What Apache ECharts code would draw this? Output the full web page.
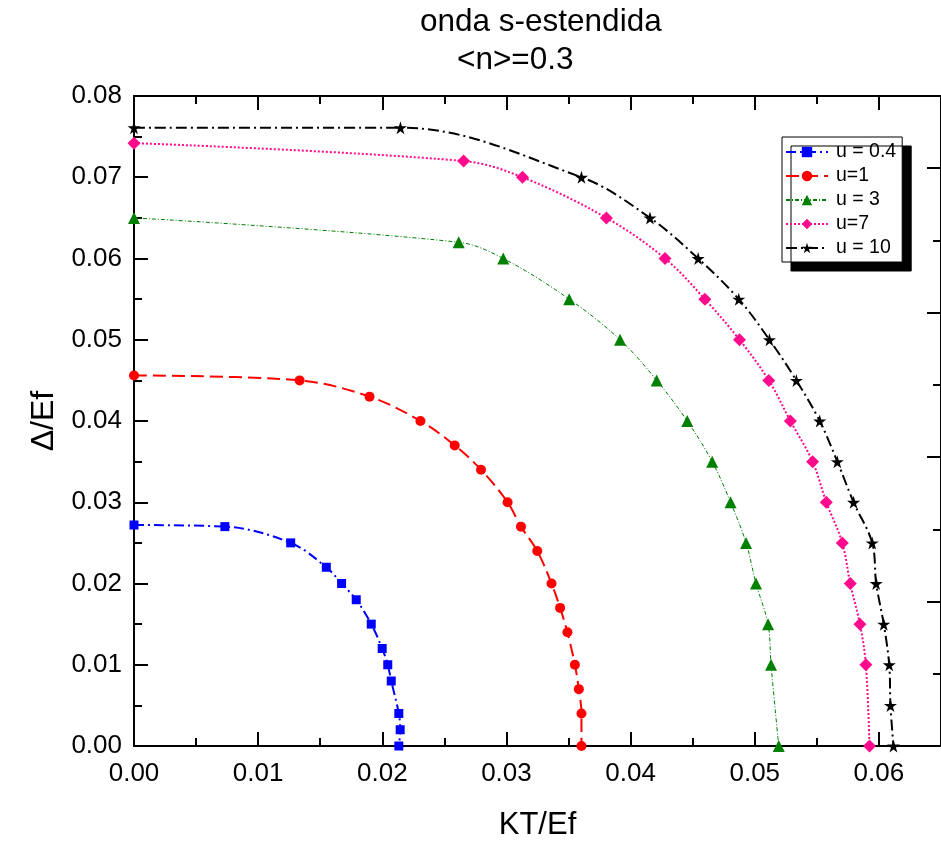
<!DOCTYPE html>
<html>
<head>
<meta charset="utf-8">
<title>onda s-estendida</title>
<script src="https://cdn.jsdelivr.net/npm/echarts@6/dist/echarts.min.js"></script>
</head>
<body style="margin:0;background:#fff;">
<div id="chart" style="width:941px;height:846px;"></div>
<script>
    // leitura dos pontos do grafico original
    var seriesNames = ['u = 0.4', 'u=1', 'u = 3', 'u=7', 'u = 10'];

    var kt04 = [0, 0.00732, 0.01262, 0.01549, 0.01672, 0.0179, 0.01911, 0.01999, 0.02044, 0.02072, 0.02133, 0.02144, 0.02133];
    var gap04 = [0.0272, 0.027, 0.025, 0.022, 0.020, 0.018, 0.015, 0.012, 0.010, 0.008, 0.004, 0.002, 0];

    var kt1 = [0, 0.01334, 0.01897, 0.02307, 0.02583, 0.02795, 0.03009, 0.03117, 0.03248, 0.03363, 0.03432, 0.03491, 0.03551, 0.03583, 0.03604, 0.03604];
    var gap1 = [0.0456, 0.045, 0.043, 0.040, 0.037, 0.034, 0.030, 0.027, 0.024, 0.020, 0.017, 0.014, 0.010, 0.007, 0.004, 0];

    var kt3 = [0, 0.02615, 0.02974, 0.03505, 0.03915, 0.0421, 0.04456, 0.04657, 0.04805, 0.0493, 0.0501, 0.05107, 0.05131, 0.05193];
    var gap3 = [0.065, 0.062, 0.060, 0.055, 0.050, 0.045, 0.040, 0.035, 0.030, 0.025, 0.020, 0.015, 0.010, 0];

    var kt7 = [0, 0.02655, 0.03129, 0.03805, 0.04277, 0.04598, 0.04877, 0.05113, 0.05287, 0.05466, 0.05576, 0.05705, 0.05769, 0.05847, 0.05895, 0.05924];
    var gap7 = [0.0742, 0.072, 0.070, 0.065, 0.060, 0.055, 0.050, 0.045, 0.040, 0.035, 0.030, 0.025, 0.020, 0.015, 0.010, 0];

    var kt10 = [0, 0.02146, 0.03604, 0.04156, 0.04544, 0.04871, 0.05118, 0.05335, 0.05523, 0.05665, 0.05796, 0.05946, 0.05978, 0.06039, 0.06083, 0.06093, 0.06117];
    var gap10 = [0.0761, 0.0761, 0.070, 0.065, 0.060, 0.055, 0.050, 0.045, 0.040, 0.035, 0.030, 0.025, 0.020, 0.015, 0.010, 0.005, 0];

    var starPath = 'path://M50,0 L61,35 L98,35 L68,57 L79,91 L50,70 L21,91 L32,57 L2,35 L39,35 Z';
    var fontName = 'Liberation Sans, Arial, sans-serif';

    function pairs(xs, ys) {
        return xs.map(function (x, i) {
            return [x, ys[i]];
        });
    }

    function mkSeries(name, xs, ys, color, dash, width, symbol, size) {
        return {
            name: name,
            type: 'line',
            data: pairs(xs, ys),
            smooth: 0.35,
            symbol: symbol,
            symbolSize: size,
            showAllSymbol: true,
            clip: false,
            itemStyle: {color: color},
            lineStyle: {color: color, width: width, type: dash},
            emphasis: {disabled: true}
        };
    }

    var frameAxis = {
        axisLine: {show: true, onZero: false, lineStyle: {color: '#000', width: 2}},
        axisTick: {show: true, inside: true, length: 14, lineStyle: {color: '#000', width: 2}},
        minorTick: {show: true, splitNumber: 2, length: 8, lineStyle: {color: '#000', width: 2}},
        splitLine: {show: false}
    };

    function axis(extra) {
        return Object.assign({}, JSON.parse(JSON.stringify(frameAxis)), extra);
    }

    var chart = echarts.init(document.getElementById('chart'));
    var option = {
        backgroundColor: '#fff',
        animation: false,
        grid: {left: 134, top: 96, width: 809, height: 652},
        graphic: [
            {type: 'text', left: 420, top: 6, style: {text: 'onda s-estendida', font: '31.5px ' + fontName, fill: '#000'}},
            {type: 'text', left: 457, top: 44, style: {text: '<n>=0.3', font: '31.5px ' + fontName, fill: '#000'}}
        ],
        legend: {
            orient: 'vertical',
            left: 782,
            top: 137,
            data: seriesNames,
            itemWidth: 42,
            itemHeight: 13,
            itemGap: 4,
            padding: [5, 6, 4, 3],
            backgroundColor: '#fff',
            borderColor: '#000',
            borderWidth: 1,
            shadowColor: '#000',
            shadowBlur: 0,
            shadowOffsetX: 9,
            shadowOffsetY: 9,
            textStyle: {fontFamily: fontName, fontSize: 19.5, color: '#000', padding: [0, 0, 0, 3]},
            selectedMode: false
        },
        xAxis: [
            axis({
                type: 'value', position: 'bottom', min: 0, max: 0.065, interval: 0.01,
                name: 'KT/Ef', nameLocation: 'middle', nameGap: 64,
                nameTextStyle: {fontFamily: fontName, fontSize: 31, color: '#000'},
                axisLabel: {
                    margin: 15, showMaxLabel: false, color: '#000', fontFamily: fontName, fontSize: 26,
                    formatter: function (v) { return v.toFixed(2); }
                }
            }),
            axis({
                type: 'value', position: 'top', min: 0, max: 0.065, interval: 0.01,
                axisLabel: {show: false}
            })
        ],
        yAxis: [
            axis({
                type: 'value', position: 'left', min: 0, max: 0.08, interval: 0.01,
                name: 'Δ/Ef', nameLocation: 'middle', nameGap: 74,
                nameTextStyle: {fontFamily: fontName, fontSize: 32, color: '#000'},
                axisLabel: {
                    margin: 12, color: '#000', fontFamily: fontName, fontSize: 26,
                    formatter: function (v) { return v.toFixed(2); }
                }
            }),
            axis({
                type: 'value', position: 'right', min: 0, max: 4.5, interval: 1,
                axisLabel: {show: false}
            })
        ],
        series: [
            mkSeries(seriesNames[0], kt04, gap04, '#0000ff', [10, 4, 2, 4], 2, 'rect', 9),
            mkSeries(seriesNames[1], kt1, gap1, '#ff0000', [13, 6], 2, 'circle', 10),
            mkSeries(seriesNames[2], kt3, gap3, '#008000', [4, 2, 1, 2], 1, 'triangle', 12),
            mkSeries(seriesNames[3], kt7, gap7, '#ff0a8c', [2, 2], 2, 'diamond', 13),
            mkSeries(seriesNames[4], kt10, gap10, '#000000', [11, 4, 2, 4], 2, starPath, 13)
        ]
    };
    chart.setOption(option);
</script>
</body>
</html>
